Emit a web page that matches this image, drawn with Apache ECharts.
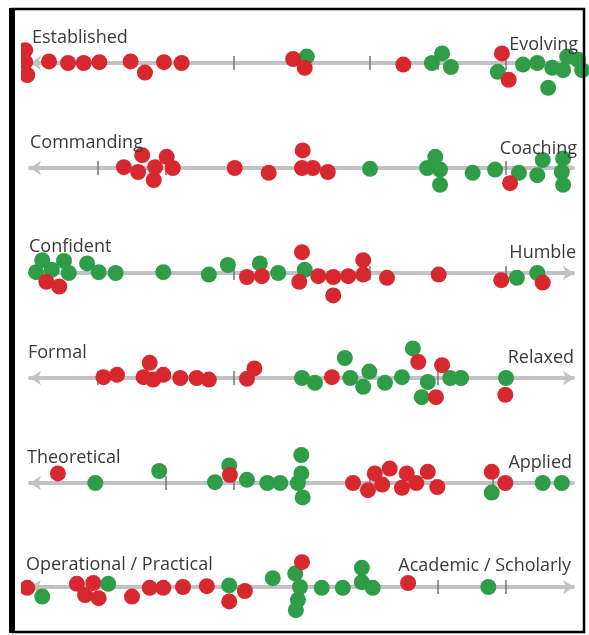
<!DOCTYPE html>
<html>
<head>
<meta charset="utf-8">
<script src="https://cdn.jsdelivr.net/npm/echarts@6/dist/echarts.min.js"></script>
<style>html,body{margin:0;padding:0;background:#fff}#c{width:589px;height:635px}</style>
</head>
<body>
<div id="c"></div>
<script>
// Pole labels
const leftLabels = ['Established', 'Commanding', 'Confident', 'Formal', 'Theoretical', 'Operational / Practical'];
const rightLabels = ['Evolving', 'Coaching', 'Humble', 'Relaxed', 'Applied', 'Academic / Scholarly'];

// Tick marks visible on each scale (scale runs 0..8)
const ticks1 = [3, 5, 6, 7];
const ticks2 = [1, 2, 7];
const ticks3 = [1, 3, 5, 7];
const ticks4 = [1, 3, 6];
const ticks5 = [1, 2, 3, 5, 6.8];
const ticks6 = [0, 2, 6, 7];

// Points: [scale value, swarm offset (dot diameters, + = below line)]
const row1Red = [[-0.07,-0.8],[-0.07,-0.05],[-0.04,0.75],[0.28,-0.1],[0.56,0],[0.79,0],[1.02,-0.05],[1.48,-0.1],[1.69,0.6],[1.97,-0.05],[2.23,0],[3.87,-0.25],[4.04,0.3],[5.49,0.1],[6.94,-0.6],[7.04,1.05]];
const row1Green = [[4.07,-0.4],[5.91,0],[6.06,-0.6],[6.19,0.25],[6.88,0.55],[7.25,0.1],[7.46,0],[7.68,0.3],[7.62,1.55],[7.84,0.45],[7.9,-0.4],[8.06,-0.2],[8.12,0.45]];

const row2Red = [[1.38,-0.05],[1.65,-0.8],[1.59,0.25],[1.84,-0.05],[2.01,-0.7],[2.1,0],[1.82,0.75],[3.01,0],[3.51,0.3],[4.01,-1.1],[4.0,0],[4.16,0],[4.38,0.25],[7.06,0.95]];
const row2Green = [[5.0,0.05],[5.96,-0.7],[5.84,0],[6.03,0.1],[6.03,1.05],[6.51,0.3],[6.84,0.1],[7.19,0.3],[7.46,0.45],[7.54,-0.5],[7.84,-0.6],[7.82,0.25],[7.84,1.05]];

const row3Red = [[0.24,0.55],[0.43,0.85],[3.19,0.25],[3.41,0.2],[4.0,-1.3],[3.96,0.55],[4.24,0.2],[4.46,0.25],[4.46,1.4],[4.68,0.2],[4.9,-0.8],[4.9,0.1],[5.25,0.3],[6.01,0.1],[6.93,0.45],[7.54,0.6]];
const row3Green = [[0.18,-0.8],[0.09,-0.05],[0.32,-0.2],[0.5,-0.75],[0.57,0],[0.84,-0.6],[1.01,-0.05],[1.26,0],[1.96,-0.05],[2.63,0.1],[2.91,-0.5],[3.38,-0.6],[3.65,0],[4.04,-0.2],[7.16,0.3],[7.46,0]];

const row4Red = [[1.08,-0.05],[1.28,-0.2],[1.76,-0.95],[1.67,-0.05],[1.81,0.1],[1.96,-0.2],[2.21,0],[2.45,0],[2.63,0.1],[3.3,-0.6],[3.19,0.05],[4.44,-0.05],[5.71,-1.0],[6.06,-0.8],[5.97,1.2],[6.99,1.05]];
const row4Green = [[4.0,0],[4.19,0.3],[4.63,-1.25],[4.71,0],[4.99,-0.4],[4.9,0.55],[5.22,0.3],[5.47,-0.05],[5.63,-1.85],[5.85,0.25],[5.76,1.2],[6.18,0],[6.34,0],[7.0,0]];

const row5Red = [[0.41,-0.6],[2.94,-0.5],[4.75,0],[4.97,0.45],[5.07,-0.6],[5.18,0.1],[5.29,-0.9],[5.47,0.3],[5.54,-0.6],[5.68,0],[5.85,-0.7],[5.99,0.25],[6.79,-0.7],[6.99,0]];
const row5Green = [[0.96,0],[1.9,-0.75],[2.72,-0.05],[2.93,-1.1],[3.19,-0.2],[3.49,0],[3.68,0],[3.99,-1.75],[3.99,-0.6],[3.94,0],[4.01,0.9],[6.79,0.6],[7.54,0],[7.82,0]];

const row6Red = [[-0.04,0.05],[0.69,-0.2],[0.93,-0.25],[0.81,0.5],[1.01,0.7],[1.5,0.6],[1.76,0.05],[1.96,0.05],[2.25,0],[2.6,-0.05],[2.93,0.9],[3.16,0.25],[4.0,-1.55],[5.56,-0.25]];
const row6Green = [[0.18,0.6],[1.15,-0.2],[2.93,-0.1],[3.57,-0.55],[3.9,-0.85],[3.97,0],[3.94,0.8],[3.91,1.45],[4.29,0.05],[4.6,0.05],[4.88,-1.2],[4.88,-0.3],[5.04,0.05],[6.74,0]];

const redRows = [row1Red, row2Red, row3Red, row4Red, row5Red, row6Red];
const greenRows = [row1Green, row2Green, row3Green, row4Green, row5Green, row6Green];
const tickRows = [ticks1, ticks2, ticks3, ticks4, ticks5, ticks6];

// Layout (not data)
const lineY = [63, 168, 273, 378, 483, 587];
const leftLabelPos = [[32,36],[30,141],[29,245],[28,351],[27,456],[26,563]];
const rightLabelPos = [[578,43],[577,147],[576,251],[574,356],[572,461],[571,564]];
const RED = '#d7282f', GREEN = '#2f9d48';
const UNIT = 16;
const FONT = '18px "Open Sans"';

const grids = [], xAxes = [], yAxes = [], series = [], graphics = [];
for (let r = 0; r < 6; r++) {
  // two stacked grids per row: upper half and lower half share the axis line at their boundary
  grids.push({ left: 30, width: 544, top: lineY[r] - 2.5 * UNIT, height: 2.5 * UNIT });
  grids.push({ left: 30, width: 544, top: lineY[r], height: 2.5 * UNIT });
  xAxes.push({
    type: 'value', gridIndex: 2 * r, min: 0, max: 8, position: 'bottom',
    splitLine: { show: false }, axisLabel: { show: false },
    axisLine: { show: true, onZero: false, symbol: ['arrow', 'arrow'], symbolSize: [11, 11],
      lineStyle: { color: '#c2c2c6', width: 4, type: [1, 1] } },
    axisTick: { show: true, customValues: tickRows[r], length: 7, inside: true,
      lineStyle: { color: '#777', width: 1.5 } },
    z: 2
  });
  xAxes.push({
    type: 'value', gridIndex: 2 * r + 1, min: 0, max: 8, position: 'top',
    splitLine: { show: false }, axisLabel: { show: false },
    axisLine: { show: false, onZero: false },
    axisTick: { show: true, customValues: tickRows[r], length: 7, inside: true,
      lineStyle: { color: '#777', width: 1.5 } },
    z: 2
  });
  yAxes.push({ type: 'value', gridIndex: 2 * r, min: -2.5, max: 0, inverse: true, show: false });
  yAxes.push({ type: 'value', gridIndex: 2 * r + 1, min: 0, max: 2.5, inverse: true, show: false });
  series.push({
    type: 'scatter', xAxisIndex: 2 * r, yAxisIndex: 2 * r, data: greenRows[r], clip: false,
    symbolSize: 16, itemStyle: { color: GREEN, opacity: 1 }, z: 3
  });
  series.push({
    type: 'scatter', xAxisIndex: 2 * r, yAxisIndex: 2 * r, data: redRows[r], clip: false,
    symbolSize: 16, itemStyle: { color: RED, opacity: 1 }, z: 4
  });
  graphics.push({ type: 'text', x: leftLabelPos[r][0], y: leftLabelPos[r][1] + 2,
    style: { text: leftLabels[r], fill: '#3a3a3a', font: FONT, align: 'left', verticalAlign: 'middle' }, z: 10 });
  graphics.push({ type: 'text', x: rightLabelPos[r][0], y: rightLabelPos[r][1] + 2,
    style: { text: rightLabels[r], fill: '#3a3a3a', font: FONT, align: 'right', verticalAlign: 'middle' }, z: 10 });
}
// frame
graphics.push({ type: 'rect', shape: { x: 15, y: 0, width: 6, height: 635 }, style: { fill: '#fff' }, z: 20 });
graphics.push({ type: 'rect', shape: { x: 12, y: 9, width: 572, height: 623 }, style: { fill: 'none', stroke: '#000', lineWidth: 2.5 }, z: 21 });
graphics.push({ type: 'rect', shape: { x: 9, y: 8, width: 6, height: 625 }, style: { fill: '#000' }, z: 21 });

const chart = echarts.init(document.getElementById('c'), null, { renderer: 'canvas' });
chart.setOption({
  animation: false,
  backgroundColor: '#fff',
  grid: grids, xAxis: xAxes, yAxis: yAxes, series: series,
  graphic: graphics
});
</script>
</body>
</html>
